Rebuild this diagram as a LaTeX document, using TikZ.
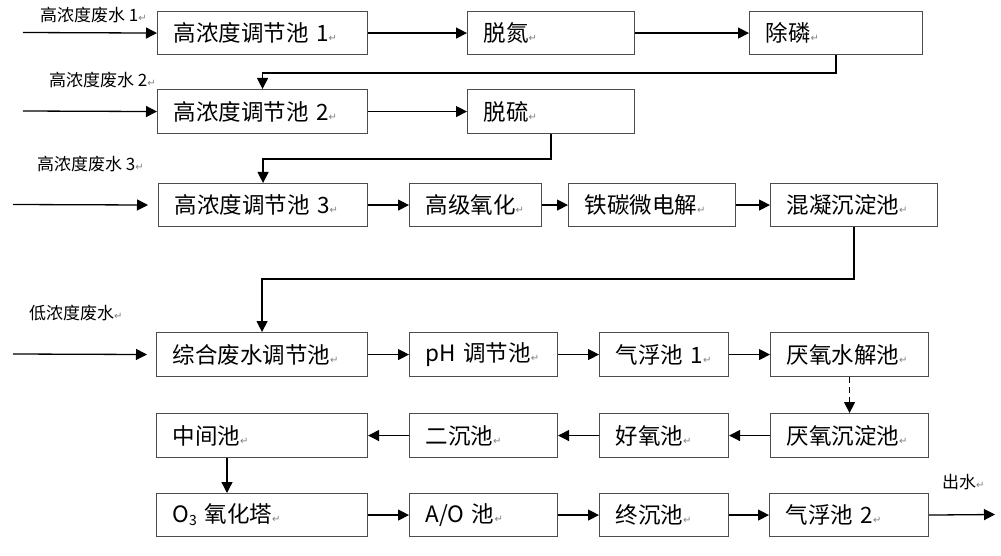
\documentclass[tikz,border=0pt]{standalone}
\usepackage{fontspec}
\usetikzlibrary{arrows.meta}
\newfontfamily\cjk{Noto Sans CJK SC}
\newfontfamily\symf{DejaVu Sans}
\newcommand\parmk{{\textcolor{black!50}{\symf\fontsize{10}{10}\selectfont ↵}}}
\newcommand\subthree{\raisebox{-3pt}{\fontsize{14}{14}\selectfont 3}}
\begin{document}
\begin{tikzpicture}[x=1pt,y=-1pt,
  box/.style={draw=black!70, line width=1.1pt, anchor=north west, inner xsep=16pt, inner ysep=0pt,
    align=left, font=\cjk\fontsize{22.5}{25}\selectfont, minimum height=43pt},
  lbl/.style={anchor=west, inner sep=0pt, font=\cjk\fontsize{17}{19}\selectfont},
  arr/.style={draw=black, line width=1.3pt, -{Triangle[length=11pt,width=11pt]}},
  ln/.style={draw=black, line width=1.3pt}]
\useasboundingbox (0,0) rectangle (1001,556);
% row 1
\node[box, text width=178pt] (a1) at (157,11) {高浓度调节池~1\parmk};
\node[box, text width=135pt] (b1) at (467,11) {脱氮\parmk};
\node[box, text width=141pt] (c1) at (749,11) {除磷\parmk};
% row 2
\node[box, text width=178pt, minimum height=44pt] (a2) at (157,89) {高浓度调节池~2\parmk};
\node[box, text width=135pt, minimum height=44pt] (b2) at (467,89) {脱硫\parmk};
% row 3
\node[box, text width=177pt] (a3) at (158,183) {高浓度调节池~3\parmk};
\node[box, text width=100pt] (b3) at (409,183) {高级氧化\parmk};
\node[box, text width=135pt] (c3) at (568,183) {铁碳微电解\parmk};
\node[box, text width=135pt] (d3) at (770,183) {混凝沉淀池\parmk};
% row 4
\node[box, text width=179pt, minimum height=44pt] (a4) at (156,332) {综合废水调节池\parmk};
\node[box, text width=116pt, minimum height=44pt] (b4) at (409,332) {pH~调节池\parmk};
\node[box, text width=97pt, minimum height=44pt] (c4) at (599,332) {气浮池~1\parmk};
\node[box, text width=126pt, minimum height=44pt] (d4) at (770,332) {厌氧水解池\parmk};
% row 5
\node[box, text width=179pt, minimum height=44pt] (a5) at (156,413) {中间池\parmk};
\node[box, text width=116pt, minimum height=44pt] (b5) at (409,413) {二沉池\parmk};
\node[box, text width=97pt, minimum height=44pt] (c5) at (599,413) {好氧池\parmk};
\node[box, text width=126pt, minimum height=44pt] (d5) at (770,413) {厌氧沉淀池\parmk};
% row 6
\node[box, text width=179pt] (a6) at (156,493) {O\subthree~氧化塔\parmk};
\node[box, text width=116pt] (b6) at (409,493) {A/O~池\parmk};
\node[box, text width=97pt] (c6) at (599,493) {终沉池\parmk};
\node[box, text width=127pt] (d6) at (769,493) {气浮池~2\parmk};
% labels
\node[lbl] (l1) at (40,15) {高浓度废水~1\parmk};
\node[lbl] (l2) at (49,80) {高浓度废水~2\parmk};
\node[lbl] (l3) at (37,164) {高浓度废水~3\parmk};
\node[lbl] (l4) at (29,313) {低浓度废水\parmk};
\node[lbl] (l5) at (942,482) {出水\parmk};
% inlet / outlet points
\coordinate (s1) at (23,32.5);
\coordinate (s2) at (23,111);
\coordinate (s3) at (13,204.5);
\coordinate (s4) at (13,354);
\coordinate (out) at (995,514.5);
% connectors
\draw[arr] (s1) -- (a1.west);
\draw[arr] (s2) -- (a2.west);
\draw[arr, shorten >=10pt] (s3) -- (a3.west);
\draw[arr, shorten >=9pt] (s4) -- (a4.west);
\draw[arr] (a1) -- (b1);
\draw[arr] (b1) -- (c1);
\draw[arr] (c1.south) -- ++(0,18) -| (a2.north);
\draw[arr] (a2) -- (b2);
\draw[arr] (b2.south) -- ++(0,25) -| (a3.north);
\draw[arr] (a3) -- (b3);
\draw[arr] (b3) -- (c3);
\draw[arr] (c3) -- (d3);
\draw[arr] (d3.south) -- ++(0,52) -| (a4.north);
\draw[arr] (a4) -- (b4);
\draw[arr] (b4) -- (c4);
\draw[arr] (c4) -- (d4);
\draw[arr, dashed, dash pattern=on 6pt off 4pt] (d4.south) -- (d5.north);
\draw[arr] (d5) -- (c5);
\draw[arr] (c5) -- (b5);
\draw[arr] (b5) -- (a5);
\draw[arr] (a5.south -| 227,0) -- (a6.north -| 227,0);
\draw[arr] (a6) -- (b6);
\draw[arr] (b6) -- (c6);
\draw[arr] (c6) -- (d6);
\draw[arr] (d6.east) -- (out);
\end{tikzpicture}
\end{document}
